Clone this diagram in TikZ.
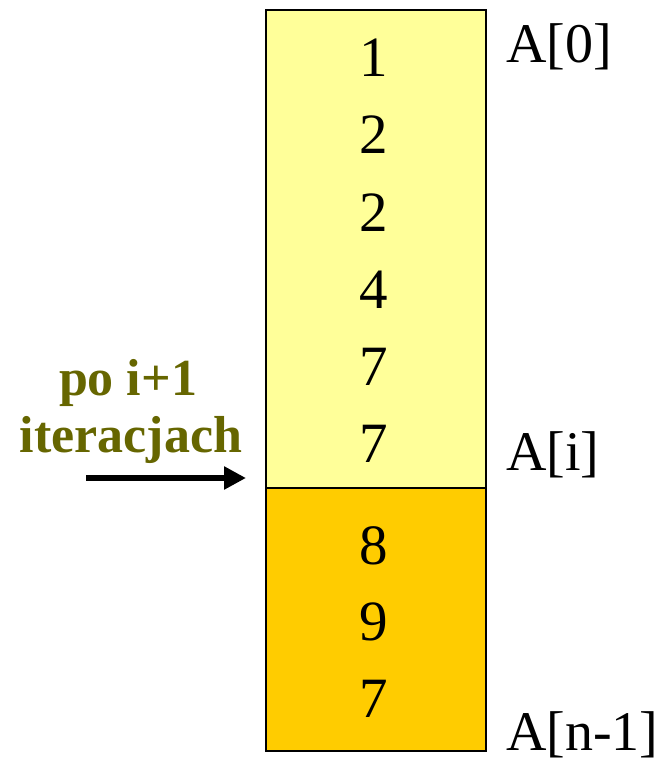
\documentclass[tikz,border=0pt]{standalone}
\usepackage{fontspec}
\setmainfont{Liberation Serif}
\usetikzlibrary{arrows.meta}
\definecolor{paleyellow}{HTML}{FFFF99}
\definecolor{amber}{HTML}{FFCC00}
\definecolor{olive}{HTML}{666600}
\begin{document}
\begin{tikzpicture}[x=1pt,y=-1pt,
  cell/.style={draw=black, line width=2.2pt, rectangle, inner sep=0pt,
    minimum width=220pt, anchor=north west},
  val/.style={anchor=base, inner sep=0pt, font=\fontsize{57}{60}\selectfont},
  idx/.style={anchor=base west, inner sep=0pt, font=\fontsize{56}{60}\selectfont},
  note/.style={anchor=base, inner sep=0pt, text=olive,
    font=\fontsize{52}{56}\selectfont\bfseries}]
\useasboundingbox (0,0) rectangle (671,762);
% sorted part and remaining part of the array
\node[cell, fill=paleyellow, minimum height=478pt] (sorted) at (265,9) {};
\node[cell, fill=amber, minimum height=263pt] (rest) at (265,487) {};
% element values
\node[val] (v0) at (374,77) {1};
\node[val] (v1) at (374,154) {2};
\node[val] (v2) at (374,231) {2};
\node[val] (v3) at (374,308) {4};
\node[val] (v4) at (374,385) {7};
\node[val] (v5) at (374,462) {7};
\node[val] (v6) at (374,564) {8};
\node[val] (v7) at (374,640) {9};
\node[val] (v8) at (374,717) {7};
% index labels
\node[idx] (a0) at (506,63) {A[0]};
\node[idx] (ai) at (506,470) {A[i]};
\node[idx] (an) at (506,750) {A[n-1]};
% iteration note and pointer
\node[note] (n1) at (128,395) {po i+1};
\node[note] (n2) at (131,452) {iteracjach};
\coordinate (tail) at (86,478);
\coordinate (tip) at (246,478);
\draw[line width=6pt, -{Triangle[length=22pt,width=22pt]}] (tail) -- (tip);
\end{tikzpicture}
\end{document}
